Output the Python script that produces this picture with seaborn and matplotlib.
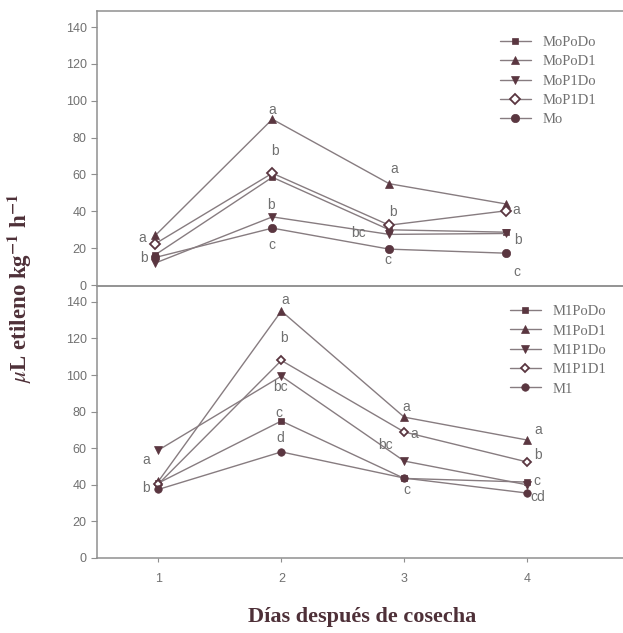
import matplotlib
matplotlib.use("Agg")
import matplotlib.pyplot as plt
import seaborn as sns

# Data
dias = [1, 2, 3, 4]

# top panel (Mo)
mopodo = [16.5, 58.5, 30, 28.7]
mopod1 = [27, 90, 55, 44]
mop1do = [12, 37, 27.5, 28]
mop1d1 = [22.5, 60.7, 32.5, 40.3]
mo = [15, 30.9, 19.5, 17.3]

# bottom panel (M1)
m1podo = [41, 74.9, 43.5, 41.5]
m1pod1 = [42, 135, 77, 64.5]
m1p1do = [59, 99.4, 53, 40]
m1p1d1 = [40.5, 108, 68.9, 52.5]
m1 = [37.5, 58, 43.7, 35.5]

top_names = ["MoPoDo", "MoPoD1", "MoP1Do", "MoP1D1", "Mo"]
bot_names = ["M1PoDo", "M1PoD1", "M1P1Do", "M1P1D1", "M1"]

# significance letters: text, x, y
top_letters = ["a", "b", "a", "b", "b", "c", "a", "b", "bc", "c", "a", "b", "c"]
top_lx = [0.89, 0.90, 2.0, 2.02, 1.99, 2.0, 3.04, 3.03, 2.74, 2.99, 4.09, 4.1, 4.09]
top_ly = [25.5, 14.6, 95, 73, 43.4, 21.7, 63, 39.6, 28.2, 13.6, 40.7, 24.4, 7.1]

bot_letters = ["a", "b", "a", "b", "bc", "c", "d", "a", "a", "bc", "c", "a", "b", "c", "cd"]
bot_lx = [0.90, 0.90, 2.03, 2.02, 1.99, 1.98, 1.99, 3.02, 3.08, 2.85, 3.02, 4.09, 4.09, 4.08, 4.09]
bot_ly = [53.6, 38.3, 141, 120, 93.5, 79, 65.6, 82.6, 67.8, 61.8, 37.2, 70, 56.3, 42, 33.4]

sns.set_style("ticks")
plt.rcParams["font.family"] = ["Liberation Sans", "DejaVu Sans"]
plt.rcParams["mathtext.fontset"] = "stix"

line_col = "#877c80"
mark_col = "#5a3640"
text_col = "#707070"
spine_col = "#8f8f8f"
label_col = "#4e3038"

markers = ["s", "^", "v", "D", "o"]
msizes = [5, 6, 6, 5, 6]

fig = plt.figure(figsize=(6.23, 6.33), dpi=100)
ax_top = fig.add_axes([97 / 623, 1 - 286 / 633, 526 / 623, 275 / 633])
ax_bot = fig.add_axes([97 / 623, 1 - 558 / 633, 526 / 623, 272 / 633])
ax_top.set_facecolor("none")
ax_bot.set_facecolor("none")


def draw_panel(ax, series, names, mscale):
    for vals, name, m, ms in zip(series, names, markers, msizes):
        face = "white" if m == "D" else mark_col
        sns.lineplot(x=dias, y=vals, ax=ax, color=line_col, linewidth=1.0,
                     marker=m, markersize=ms * mscale, markerfacecolor=face,
                     markeredgecolor=mark_col, markeredgewidth=1.3 if m == "D" else 0.5,
                     label=name)


draw_panel(ax_top, [mopodo, mopod1, mop1do, mop1d1, mo], top_names, 1.0)
draw_panel(ax_bot, [m1podo, m1pod1, m1p1do, m1p1d1, m1], bot_names, 0.9)

for t, x, y in zip(top_letters, top_lx, top_ly):
    ax_top.text(x, y, t, ha="center", va="center", fontsize=10, color=text_col)
for t, x, y in zip(bot_letters, bot_lx, bot_ly):
    ax_bot.text(x, y, t, ha="center", va="center", fontsize=10, color=text_col)

ax_top.set_xlim(0.5, 5.0)
ax_top.set_ylim(-0.5, 148.7)
ax_bot.set_xlim(0.5, 4.78)
ax_bot.set_ylim(0, 148.7)

for ax in (ax_top, ax_bot):
    ax.set_yticks(range(0, 141, 20))
    ax.tick_params(axis="y", labelsize=9, colors=text_col, length=4, width=0.8, color=spine_col)
    ax.spines["right"].set_visible(False)
    for s in ("left", "bottom", "top"):
        ax.spines[s].set_visible(True)
        ax.spines[s].set_color(spine_col)
        ax.spines[s].set_linewidth(1.1)
    ax.set_xlabel("")
    ax.set_ylabel("")

ax_top.set_xticks([])
ax_bot.set_xticks(dias)
ax_bot.tick_params(axis="x", labelsize=9, colors=text_col, length=3, width=0.8,
                   color=spine_col, pad=8)

leg_kw = dict(frameon=False, loc="upper left", borderpad=0, borderaxespad=0,
              labelspacing=0.42, handlelength=2.1, handletextpad=0.8,
              prop={"family": "Liberation Serif", "size": 10.5})
leg1 = ax_top.legend(bbox_to_anchor=(0.766, 0.91), **leg_kw)
leg2 = ax_bot.legend(bbox_to_anchor=(0.785, 0.93), **leg_kw)
for leg in (leg1, leg2):
    for txt in leg.get_texts():
        txt.set_color(text_col)

fig.text(0.032, 0.545, r"$\mu$L etileno kg$^{\mathbf{-1}}$ h$^{\mathbf{-1}}$",
         rotation=90, ha="center", va="center", fontsize=16.5, fontweight="bold",
         family="Liberation Serif", color=label_col)
fig.text(0.581, 0.026, "Días después de cosecha", ha="center", va="center",
         fontsize=16, fontweight="bold", family="Liberation Serif", color=label_col)

fig.savefig("out.png", dpi=100)
